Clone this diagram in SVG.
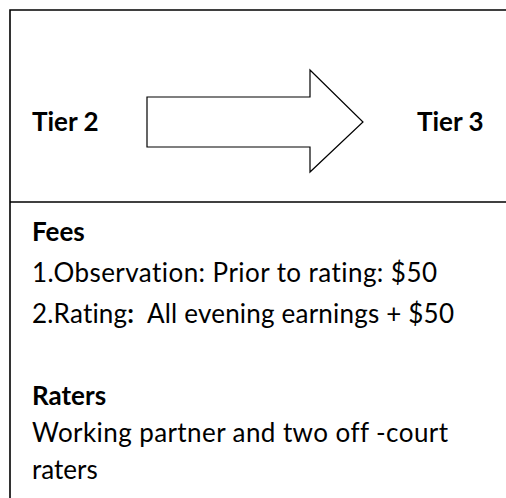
<svg xmlns="http://www.w3.org/2000/svg" width="506" height="498" viewBox="0 0 506 498">
<style>
.t{font-family:Lato,"Liberation Sans",sans-serif;font-size:26px;fill:#000;font-variant-ligatures:none}
.b{font-weight:bold}
.frame{fill:none;stroke:#000;stroke-width:1.6}
.arr{fill:#fff;stroke:#000;stroke-width:1.2;stroke-linejoin:miter}
</style>
<rect width="506" height="498" fill="#fff"/>
<g id="frame">
<path class="frame" d="M10,520 V10 H520"/>
<path class="frame" d="M10,202 H520"/>
</g>
<g id="tier2"><text class="t b" x="32" y="131">Tier 2</text></g>
<g id="tier3"><text class="t b" x="417" y="131">Tier 3</text></g>
<g id="connectors">
<polygon class="arr" points="147,97 310,97 310,70 363,122 310,172 310,147 147,147"/>
</g>
<g id="details">
<text class="t b" x="32" y="241">Fees</text>
<text class="t" x="32" y="282" textLength="405" lengthAdjust="spacing">1.Observation: Prior to rating: $50</text>
<text class="t" x="32" y="323" xml:space="preserve" textLength="422" lengthAdjust="spacing">2.Rating<tspan class="b">:</tspan>  All evening earnings + $50</text>
<text class="t b" x="32" y="405">Raters</text>
<text class="t" x="32" y="442" textLength="416" lengthAdjust="spacing">Working partner and two off -court</text>
<text class="t" x="32" y="479">raters</text>
</g>
</svg>
